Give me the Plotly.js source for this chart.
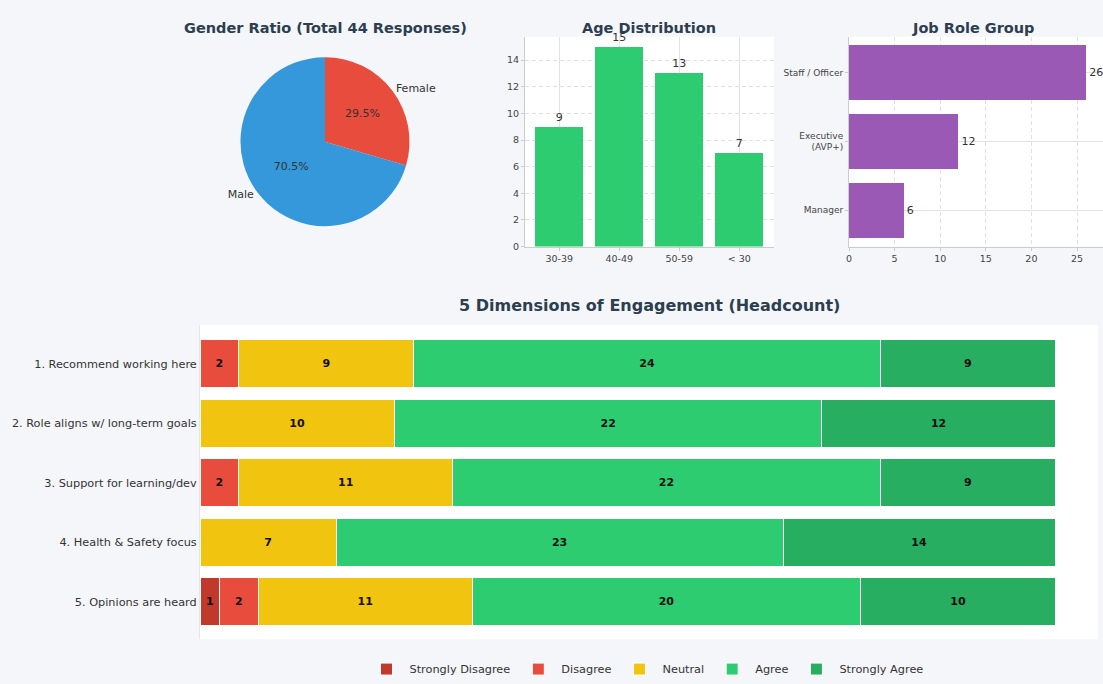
<!DOCTYPE html>
<html>
<head>
<meta charset="utf-8">
<script src="https://cdn.plot.ly/plotly-3.0.1.min.js"></script>
<style>html,body{margin:0;padding:0;background:#f4f6f9;}#chart{width:1103px;height:684px;}</style>
</head>
<body>
<div id="chart"></div>
<script>
// ---- Data ----
const genderLabels = ['Female', 'Male'];
const genderCounts = [13, 31];
const genderColors = ['#e74c3c', '#3498db'];

const ageGroups = ['30-39', '40-49', '50-59', '< 30'];
const ageCounts = [9, 15, 13, 7];

const roleLabels = ['Manager', 'Executive<br>(AVP+)', 'Staff / Officer'];
const roleCounts = [6, 12, 26];

const questions = [
  '1. Recommend working here',
  '2. Role aligns w/ long-term goals',
  '3. Support for learning/dev',
  '4. Health & Safety focus',
  '5. Opinions are heard'
];
const levels = ['Strongly Disagree', 'Disagree', 'Neutral', 'Agree', 'Strongly Agree'];
const levelColors = ['#c0392b', '#e74c3c', '#f1c40f', '#2ecc71', '#27ae60'];
const stronglyDisagree = [0, 0, 0, 0, 1];
const disagree = [2, 0, 2, 0, 2];
const neutral = [9, 10, 11, 7, 11];
const agree = [24, 22, 22, 23, 20];
const stronglyAgree = [9, 12, 9, 14, 10];
const levelValues = [stronglyDisagree, disagree, neutral, agree, stronglyAgree];

// ---- Styling ----
const FONT = 'DejaVu Sans, Verdana, sans-serif';
const TITLE_COLOR = '#2c3e50';
const W = 1103, H = 684;
const px = v => v / W;
const py = v => 1 - v / H;

const traces = [];
const pieDomain = {x: [px(240), px(410)], y: [py(227.5), py(57.5)]};

// Pie: percentages inside
traces.push({
  type: 'pie', labels: genderLabels, values: genderCounts,
  marker: {colors: genderColors, line: {width: 0}},
  sort: false, direction: 'clockwise', rotation: 0,
  textinfo: 'percent', texttemplate: '%{percent:.1%}', textposition: 'inside',
  insidetextorientation: 'horizontal',
  textfont: {family: FONT, size: 11, color: '#333'},
  domain: pieDomain,
  showlegend: false, hoverinfo: 'label+value+percent', automargin: false
});
// Pie: labels outside (transparent overlay)
traces.push({
  type: 'pie', labels: genderLabels, values: genderCounts,
  marker: {colors: ['rgba(0,0,0,0)', 'rgba(0,0,0,0)'], line: {width: 0}},
  sort: false, direction: 'clockwise', rotation: 0,
  texttemplate: '%{label}', textposition: 'outside',
  outsidetextfont: {family: FONT, size: 11, color: '#333'},
  domain: pieDomain,
  showlegend: false, hoverinfo: 'skip', automargin: false
});

// Age distribution
traces.push({
  type: 'bar', x: ageGroups, y: ageCounts, xaxis: 'x', yaxis: 'y',
  marker: {color: '#2ecc71'},
  text: ageCounts.map(String), textposition: 'outside', cliponaxis: false,
  textfont: {family: FONT, size: 11, color: '#333'},
  showlegend: false
});

// Job role group
traces.push({
  type: 'bar', orientation: 'h', y: roleLabels, x: roleCounts, xaxis: 'x2', yaxis: 'y2',
  marker: {color: '#9b59b6'},
  text: roleCounts.map(String), textposition: 'outside', cliponaxis: false,
  textfont: {family: FONT, size: 11, color: '#333'},
  showlegend: false
});

// Engagement stacked bars
levels.forEach((lvl, i) => {
  const vals = levelValues[i];
  traces.push({
    type: 'bar', orientation: 'h', name: lvl, y: questions, x: vals,
    xaxis: 'x3', yaxis: 'y3',
    marker: {color: levelColors[i], line: {color: '#ffffff', width: 1}},
    text: vals.map(v => v > 0 ? String(v) : ''),
    textposition: 'inside', insidetextanchor: 'middle', textangle: 0,
    constraintext: 'none',
    textfont: {family: FONT, size: 11, color: '#111', weight: 'bold'},
    hovertemplate: '%{y}<br>' + lvl + ': %{x}<extra></extra>'
  });
});

const tickFont = {family: FONT, size: 9.5, color: '#444'};

const layout = {
  width: W, height: H,
  margin: {l: 0, r: 0, t: 0, b: 0},
  paper_bgcolor: '#f4f6f9',
  plot_bgcolor: '#ffffff',
  font: {family: FONT, color: '#333'},
  barmode: 'stack',
  bargap: 0.2,
  xaxis: {
    domain: [px(525), px(774)], anchor: 'y', range: [-0.57, 3.58],
    showgrid: true, gridcolor: '#e3e3e3', gridwidth: 1,
    showline: true, linecolor: '#cccccc', ticks: 'outside', ticklen: 3, tickcolor: '#cccccc',
    tickfont: tickFont, fixedrange: true
  },
  yaxis: {
    domain: [py(248), py(37)], anchor: 'x', range: [0, 15.75],
    dtick: 2, showgrid: true, gridcolor: '#e0e0e0', griddash: '4px,3px', zeroline: false,
    showline: true, linecolor: '#cccccc', ticks: 'outside', ticklen: 3, tickcolor: '#cccccc',
    tickfont: tickFont, fixedrange: true
  },
  xaxis2: {
    domain: [px(849), 1], anchor: 'y2', range: [0, 27.85],
    dtick: 5, showgrid: true, gridcolor: '#e0e0e0', griddash: '4px,3px', zeroline: false,
    showline: true, linecolor: '#cccccc', ticks: 'outside', ticklen: 3, tickcolor: '#cccccc',
    tickfont: tickFont, fixedrange: true
  },
  yaxis2: {
    domain: [py(248), py(37)], anchor: 'x2', range: [-0.53, 2.52],
    showgrid: true, gridcolor: '#e3e3e3',
    showline: true, linecolor: '#cccccc', ticks: 'outside', ticklen: 3, tickcolor: '#cccccc',
    tickfont: {family: FONT, size: 9, color: '#444'}, fixedrange: true
  },
  xaxis3: {
    domain: [px(200), px(1098)], anchor: 'y3', range: [0, 46.2],
    showgrid: false, zeroline: false, showticklabels: false, ticks: '', fixedrange: true
  },
  yaxis3: {
    domain: [py(643), py(327)], anchor: 'x3', range: [4.63, -0.65],
    showgrid: false, showline: true, linecolor: '#e6e6e6', ticks: '',
    tickfont: {family: FONT, size: 11.3, color: '#333'}, fixedrange: true
  },
  legend: {
    orientation: 'h', x: px(646), xanchor: 'center', y: py(673), yanchor: 'middle',
    font: {family: FONT, size: 11.3, color: '#333'}, bgcolor: 'rgba(0,0,0,0)',
    traceorder: 'normal', itemwidth: 36
  },
  annotations: [
    {text: '<b>Gender Ratio (Total 44 Responses)</b>', x: px(325), y: py(28), xref: 'paper', yref: 'paper',
     xanchor: 'center', yanchor: 'middle', showarrow: false, font: {family: FONT, size: 14.5, color: TITLE_COLOR}},
    {text: '<b>Age Distribution</b>', x: px(649), y: py(28), xref: 'paper', yref: 'paper',
     xanchor: 'center', yanchor: 'middle', showarrow: false, font: {family: FONT, size: 14.5, color: TITLE_COLOR}},
    {text: '<b>Job Role Group</b>', x: px(973), y: py(28), xref: 'paper', yref: 'paper',
     xanchor: 'center', yanchor: 'middle', showarrow: false, font: {family: FONT, size: 14.5, color: TITLE_COLOR}},
    {text: '<b>5 Dimensions of Engagement (Headcount)</b>', x: px(649), y: py(307), xref: 'paper', yref: 'paper',
     xanchor: 'center', yanchor: 'middle', showarrow: false, font: {family: FONT, size: 16, color: TITLE_COLOR}}
  ]
};

Plotly.newPlot('chart', traces, layout, {displayModeBar: false, staticPlot: false});
</script>
</body>
</html>
